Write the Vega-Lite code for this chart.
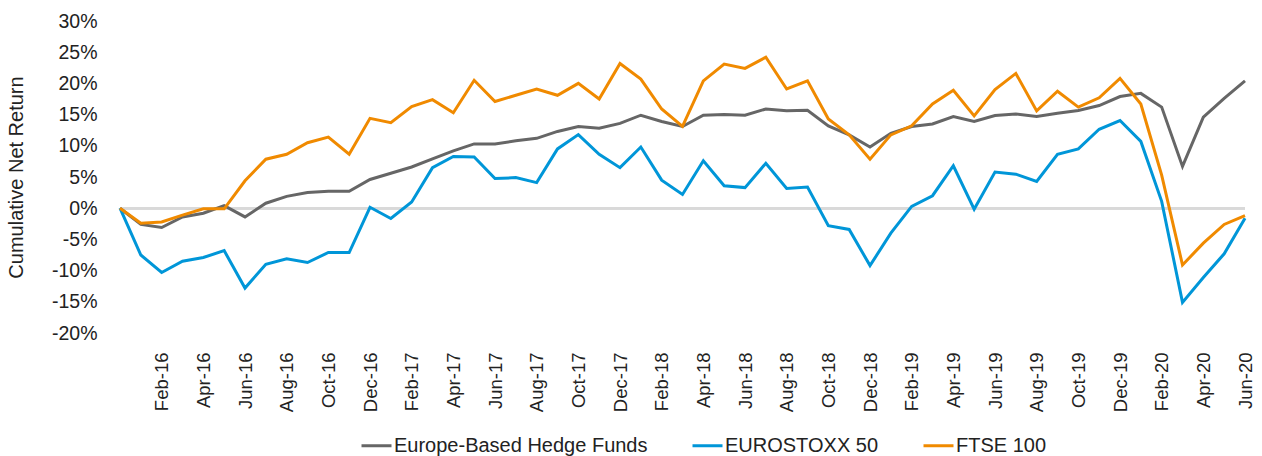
{
  "$schema": "https://vega.github.io/schema/vega-lite/v6.json",
  "width": 1125,
  "height": 312,
  "autosize": {"type": "none"},
  "padding": {"left": 120, "top": 21, "right": 17, "bottom": 123},
  "background": "white",
  "config": {
    "view": {"stroke": null},
    "font": "Liberation Sans",
    "axis": {"labelColor": "#222222", "titleColor": "#222222", "labelFont": "Liberation Sans", "titleFont": "Liberation Sans"},
    "axisY": {
      "title": "Cumulative Net Return", "titleFontSize": 20, "titleFontWeight": "normal",
      "titleX": -104, "titleY": 156, "titleBaseline": "middle",
      "domain": false, "ticks": false, "labelPadding": 23, "labelFontSize": 19.5,
      "labelOverlap": false, "labelFlush": false,
      "gridColor": "#e9e9e9", "gridWidth": 1.5
    }
  },
  "data": {
    "values": [
      {"m":"Dec-15","hf":0,"sx":0,"ft":0},
      {"m":"Jan-16","hf":-2.6,"sx":-7.5,"ft":-2.4},
      {"m":"Feb-16","hf":-3.1,"sx":-10.3,"ft":-2.2},
      {"m":"Mar-16","hf":-1.4,"sx":-8.5,"ft":-1.1},
      {"m":"Apr-16","hf":-0.8,"sx":-7.9,"ft":-0.1},
      {"m":"May-16","hf":0.4,"sx":-6.8,"ft":-0.1},
      {"m":"Jun-16","hf":-1.4,"sx":-12.8,"ft":4.4},
      {"m":"Jul-16","hf":0.8,"sx":-9.0,"ft":7.85},
      {"m":"Aug-16","hf":1.9,"sx":-8.1,"ft":8.65},
      {"m":"Sep-16","hf":2.5,"sx":-8.7,"ft":10.5},
      {"m":"Oct-16","hf":2.7,"sx":-7.1,"ft":11.4},
      {"m":"Nov-16","hf":2.7,"sx":-7.1,"ft":8.65},
      {"m":"Dec-16","hf":4.6,"sx":0.15,"ft":14.4},
      {"m":"Jan-17","hf":5.6,"sx":-1.65,"ft":13.7},
      {"m":"Feb-17","hf":6.6,"sx":1.0,"ft":16.3},
      {"m":"Mar-17","hf":7.9,"sx":6.5,"ft":17.4},
      {"m":"Apr-17","hf":9.2,"sx":8.3,"ft":15.3},
      {"m":"May-17","hf":10.3,"sx":8.2,"ft":20.5},
      {"m":"Jun-17","hf":10.3,"sx":4.75,"ft":17.1},
      {"m":"Jul-17","hf":10.8,"sx":4.9,"ft":18.1},
      {"m":"Aug-17","hf":11.2,"sx":4.1,"ft":19.1},
      {"m":"Sep-17","hf":12.3,"sx":9.5,"ft":18.1},
      {"m":"Oct-17","hf":13.1,"sx":11.8,"ft":20.0},
      {"m":"Nov-17","hf":12.8,"sx":8.65,"ft":17.5},
      {"m":"Dec-17","hf":13.6,"sx":6.5,"ft":23.2},
      {"m":"Jan-18","hf":14.9,"sx":9.8,"ft":20.7},
      {"m":"Feb-18","hf":13.9,"sx":4.5,"ft":15.9},
      {"m":"Mar-18","hf":13.1,"sx":2.2,"ft":13.1},
      {"m":"Apr-18","hf":14.9,"sx":7.6,"ft":20.4},
      {"m":"May-18","hf":15.0,"sx":3.6,"ft":23.1},
      {"m":"Jun-18","hf":14.9,"sx":3.3,"ft":22.4},
      {"m":"Jul-18","hf":15.9,"sx":7.2,"ft":24.2},
      {"m":"Aug-18","hf":15.6,"sx":3.15,"ft":19.1},
      {"m":"Sep-18","hf":15.7,"sx":3.4,"ft":20.4},
      {"m":"Oct-18","hf":13.2,"sx":-2.8,"ft":14.3},
      {"m":"Nov-18","hf":11.75,"sx":-3.4,"ft":11.75},
      {"m":"Dec-18","hf":9.8,"sx":-9.2,"ft":7.85},
      {"m":"Jan-19","hf":12.0,"sx":-4.0,"ft":11.75},
      {"m":"Feb-19","hf":13.1,"sx":0.3,"ft":13.2},
      {"m":"Mar-19","hf":13.5,"sx":2.0,"ft":16.7},
      {"m":"Apr-19","hf":14.7,"sx":6.8,"ft":18.9},
      {"m":"May-19","hf":13.9,"sx":-0.15,"ft":14.8},
      {"m":"Jun-19","hf":14.85,"sx":5.8,"ft":19.0},
      {"m":"Jul-19","hf":15.1,"sx":5.45,"ft":21.6},
      {"m":"Aug-19","hf":14.7,"sx":4.3,"ft":15.6},
      {"m":"Sep-19","hf":15.2,"sx":8.65,"ft":18.75},
      {"m":"Oct-19","hf":15.65,"sx":9.5,"ft":16.2},
      {"m":"Nov-19","hf":16.45,"sx":12.65,"ft":17.7},
      {"m":"Dec-19","hf":17.9,"sx":14.05,"ft":20.8},
      {"m":"Jan-20","hf":18.4,"sx":10.7,"ft":16.7},
      {"m":"Feb-20","hf":16.2,"sx":1.1,"ft":5.3},
      {"m":"Mar-20","hf":6.7,"sx":-15.1,"ft":-9.1},
      {"m":"Apr-20","hf":14.6,"sx":-11.1,"ft":-5.6},
      {"m":"May-20","hf":17.6,"sx":-7.3,"ft":-2.6},
      {"m":"Jun-20","hf":20.4,"sx":-1.6,"ft":-1.2}
    ]
  },
  "transform": [
    {"fold": ["hf", "sx", "ft"], "as": ["key", "v"]},
    {"lookup": "key", "from": {"data": {"values": [
      {"key": "hf", "series": "Europe-Based Hedge Funds"},
      {"key": "sx", "series": "EUROSTOXX 50"},
      {"key": "ft", "series": "FTSE 100"}
    ]}, "key": "key", "fields": ["series"]}}
  ],
  "layer": [
    {
      "mark": {"type": "rule", "color": "#d9d9d9", "strokeWidth": 2.5},
      "encoding": {"y": {"datum": 0, "type": "quantitative",
        "scale": {"domain": [-20, 30], "nice": false},
        "axis": {"values": [-20,-15,-10,-5,0,5,10,15,20,25,30], "labelExpr": "datum.value + '%'", "title": "Cumulative Net Return"}}}
    },
    {
      "mark": {"type": "line", "strokeWidth": 3, "strokeJoin": "miter"},
      "encoding": {
        "x": {
          "field": "m", "type": "ordinal", "sort": null,
          "scale": {"type": "point", "padding": 0},
          "axis": {
            "title": null, "domain": false, "ticks": false, "grid": false,
            "labelAngle": -90, "labelFontSize": 18.5, "labelPadding": 19, "labelOverlap": false,
            "values": ["Feb-16","Apr-16","Jun-16","Aug-16","Oct-16","Dec-16","Feb-17","Apr-17","Jun-17","Aug-17","Oct-17","Dec-17","Feb-18","Apr-18","Jun-18","Aug-18","Oct-18","Dec-18","Feb-19","Apr-19","Jun-19","Aug-19","Oct-19","Dec-19","Feb-20","Apr-20","Jun-20"]
          }
        },
        "y": {
          "field": "v", "type": "quantitative",
          "scale": {"domain": [-20, 30], "nice": false},
          "axis": {"values": [-20,-15,-10,-5,0,5,10,15,20,25,30], "labelExpr": "datum.value + '%'", "title": "Cumulative Net Return"}
        },
        "color": {
          "field": "series", "type": "nominal",
          "scale": {"domain": ["Europe-Based Hedge Funds", "EUROSTOXX 50", "FTSE 100"], "range": ["#666666", "#0096d8", "#f08a00"]},
          "legend": {
            "title": null, "orient": "none", "direction": "horizontal",
            "legendX": 240, "legendY": 408,
            "symbolType": "stroke", "symbolSize": 900, "symbolStrokeWidth": 3,
            "labelFontSize": 20, "labelColor": "#222222", "labelOffset": 1, "columnPadding": 38,
            "labelLimit": 400
          }
        }
      }
    }
  ]
}
